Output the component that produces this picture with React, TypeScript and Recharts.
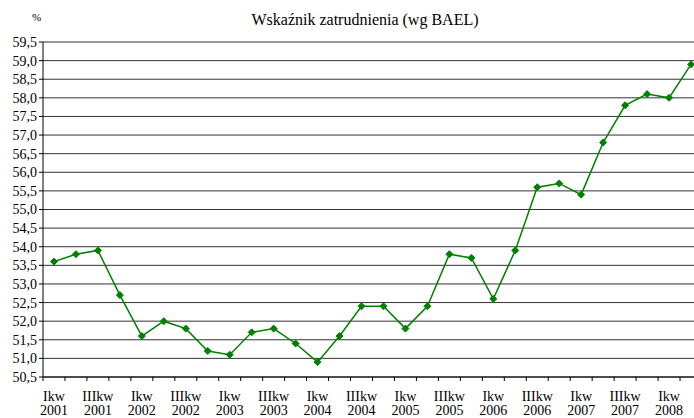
import React from "react";
import { LineChart, Line, XAxis, YAxis, CartesianGrid } from "recharts";

// Quarterly labels (I..IV kw) from 2001 to II kw 2008
const quarters = ["I", "II", "III", "IV"];
const years = [2001, 2002, 2003, 2004, 2005, 2006, 2007, 2008];

// employment rate, %
const rates = [
  53.6, 53.8, 53.9, 52.7, 51.6, 52.0, 51.8, 51.2, 51.1, 51.7, 51.8, 51.4, 50.9,
  51.6, 52.4, 52.4, 51.8, 52.4, 53.8, 53.7, 52.6, 53.9, 55.6, 55.7, 55.4, 56.8,
  57.8, 58.1, 58.0, 58.9,
];

const yTicks = [
  50.5, 51, 51.5, 52, 52.5, 53, 53.5, 54, 54.5, 55, 55.5, 56, 56.5, 57, 57.5,
  58, 58.5, 59, 59.5,
];

const data = rates.map((v, i) => ({
  idx: i,
  q: quarters[i % 4],
  year: years[Math.floor(i / 4)],
  value: v,
}));

// tick positions: category borders (x.5) for the marks, even indexes for labels
const xTicks: number[] = [];
for (let i = 0; i <= rates.length; i++) {
  xTicks.push(i - 0.5);
  if (i < rates.length && i % 2 === 0) xTicks.push(i);
}

const font = "'Liberation Serif', 'Times New Roman', serif";

const XTick = (props: any) => {
  const { x, y, payload } = props;
  const v = payload.value;
  if (!Number.isInteger(v)) {
    return <line x1={x} x2={x} y1={y - 8} y2={y - 4} stroke="#000" />;
  }
  const d = data[v];
  return (
    <g>
      <text x={x} y={y + 16} textAnchor="middle" fontSize={14} fontFamily={font} fill="#000">
        {d.q}kw
      </text>
      <text x={x} y={y + 30} textAnchor="middle" fontSize={14} fontFamily={font} fill="#000">
        {d.year}
      </text>
    </g>
  );
};

const Diamond = (props: any) => {
  const { cx, cy } = props;
  if (cx == null || cy == null) return null;
  const r = 3.5;
  return (
    <polygon
      points={`${cx},${cy - r} ${cx + r},${cy} ${cx},${cy + r} ${cx - r},${cy}`}
      fill="#008000"
      stroke="#008000"
    />
  );
};

export default function App() {
  return (
    <div style={{ position: "fixed", left: 0, top: 0, width: 694, height: 418, overflow: "hidden", background: "#fff" }}>
      <div style={{ position: "absolute", left: 0, top: 11, width: 730, textAlign: "center", fontFamily: font, fontSize: 16 }}>
        Wskaźnik zatrudnienia (wg BAEL)
      </div>
      <div style={{ position: "absolute", left: 32, top: 11, fontFamily: font, fontSize: 11 }}>%</div>
      <LineChart
        width={702}
        height={418}
        data={data}
        margin={{ top: 42, right: 0, bottom: 0, left: 0 }}
      >
        <CartesianGrid vertical={false} stroke="#333" strokeWidth={1} />
        <XAxis
          dataKey="idx"
          type="number"
          domain={[-0.5, rates.length - 0.5]}
          ticks={xTicks}
          interval={0}
          tick={<XTick />}
          tickLine={false}
          axisLine={{ stroke: "#000" }}
          height={41}
        />
        <YAxis
          domain={[50.5, 59.5]}
          ticks={yTicks}
          interval={0}
          width={43}
          tickSize={4}
          tickLine={{ stroke: "#000" }}
          axisLine={{ stroke: "#000" }}
          tickFormatter={(v: number) => v.toFixed(1).replace(".", ",")}
          tick={{ fontSize: 14, fontFamily: font, fill: "#000" }}
        />
        <Line
          type="linear"
          dataKey="value"
          stroke="#008000"
          strokeWidth={1.5}
          dot={<Diamond />}
          activeDot={false}
          isAnimationActive={false}
        />
      </LineChart>
    </div>
  );
}
